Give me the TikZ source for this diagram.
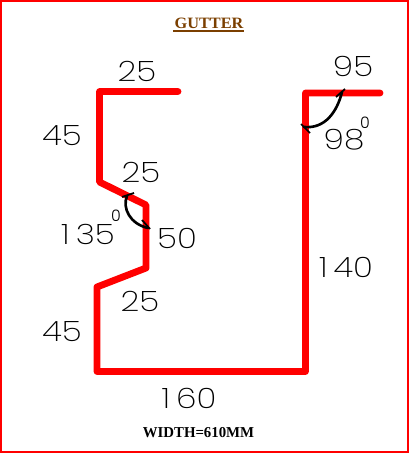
\documentclass[tikz,border=0pt]{standalone}
\usepackage{fontspec}
\setmainfont{Liberation Serif}
\newfontfamily\dimfont{Poppins ExtraLight}
\newfontfamily\degfont{Poppins Light}
\definecolor{gutterred}{RGB}{255,0,0}
\definecolor{titlebrown}{RGB}{123,63,0}
\tikzset{
  sheet/.style={draw=gutterred,line width=3.9pt,line join=round,line cap=round},
  dimlabel/.style={inner sep=0pt,text=black,xscale=1.17,font=\dimfont\fontsize{16}{16}\selectfont},
  deglabel/.style={inner sep=0pt,font=\degfont\fontsize{9}{9}\selectfont},
  anglearc/.style={draw=black,line width=1.5pt,line cap=round},
  angletick/.style={draw=black,line width=1pt}
}
\begin{document}
\begin{tikzpicture}[x=0.02cm,y=-0.02cm]
  \useasboundingbox (0,0) rectangle (409,453);
  % frame
  \draw[gutterred,line width=1.3pt] (1,1) rectangle (408,452);
  % gutter profile
  \draw[sheet] (178,91.5) -- (99.5,91.5) -- (99.5,182) -- (146,205) -- (146,268)
     -- (97,287) -- (97,371.5) -- (305.5,371.5) -- (305.5,93) -- (380,93);
  % angles
  \draw[anglearc] (127,196) .. controls (122,208) and (130,224) .. (148,228);
  \draw[angletick] (122,197) -- (134,193);
  \draw[angletick] (142,220) -- (150,229);
  \draw[anglearc] (342,92) .. controls (337,112) and (325,129) .. (304,127);
  \draw[angletick] (336,97) -- (345,89);
  \draw[angletick] (301,124) -- (310,133);
  % labels
  \node[inner sep=0pt,text=titlebrown,xscale=1.03,font=\bfseries\fontsize{9}{9}\selectfont] (title) at (209,23) {GUTTER};
  \draw[titlebrown,line width=0.6pt] (173,31) -- (244,31);
  \node[dimlabel] (topflat) at (137,71) {25};
  \node[dimlabel] (topleft) at (62,136) {45};
  \node[dimlabel] (upperslope) at (141,172) {25};
  \node[dimlabel] (leftangle) at (88,234) {1\kern3pt 35};
  \node[deglabel] (leftdeg) at (116,216) {0};
  \node[dimlabel] (notch) at (177,238) {50};
  \node[dimlabel] (lowerslope) at (140,301) {25};
  \node[dimlabel] (lowleft) at (62,332) {45};
  \node[dimlabel] (base) at (189,398) {1\kern3pt 60};
  \node[dimlabel] (rightside) at (346,267) {1\kern3pt 40};
  \node[dimlabel] (rightflat) at (353,66) {95};
  \node[dimlabel] (rightangle) at (344,140) {98};
  \node[deglabel] (rightdeg) at (365,123) {0};
  \node[inner sep=0pt,xscale=0.98,font=\bfseries\fontsize{8.6}{8.6}\selectfont] (width) at (198.5,433) {WIDTH=610MM};
\end{tikzpicture}
\end{document}
